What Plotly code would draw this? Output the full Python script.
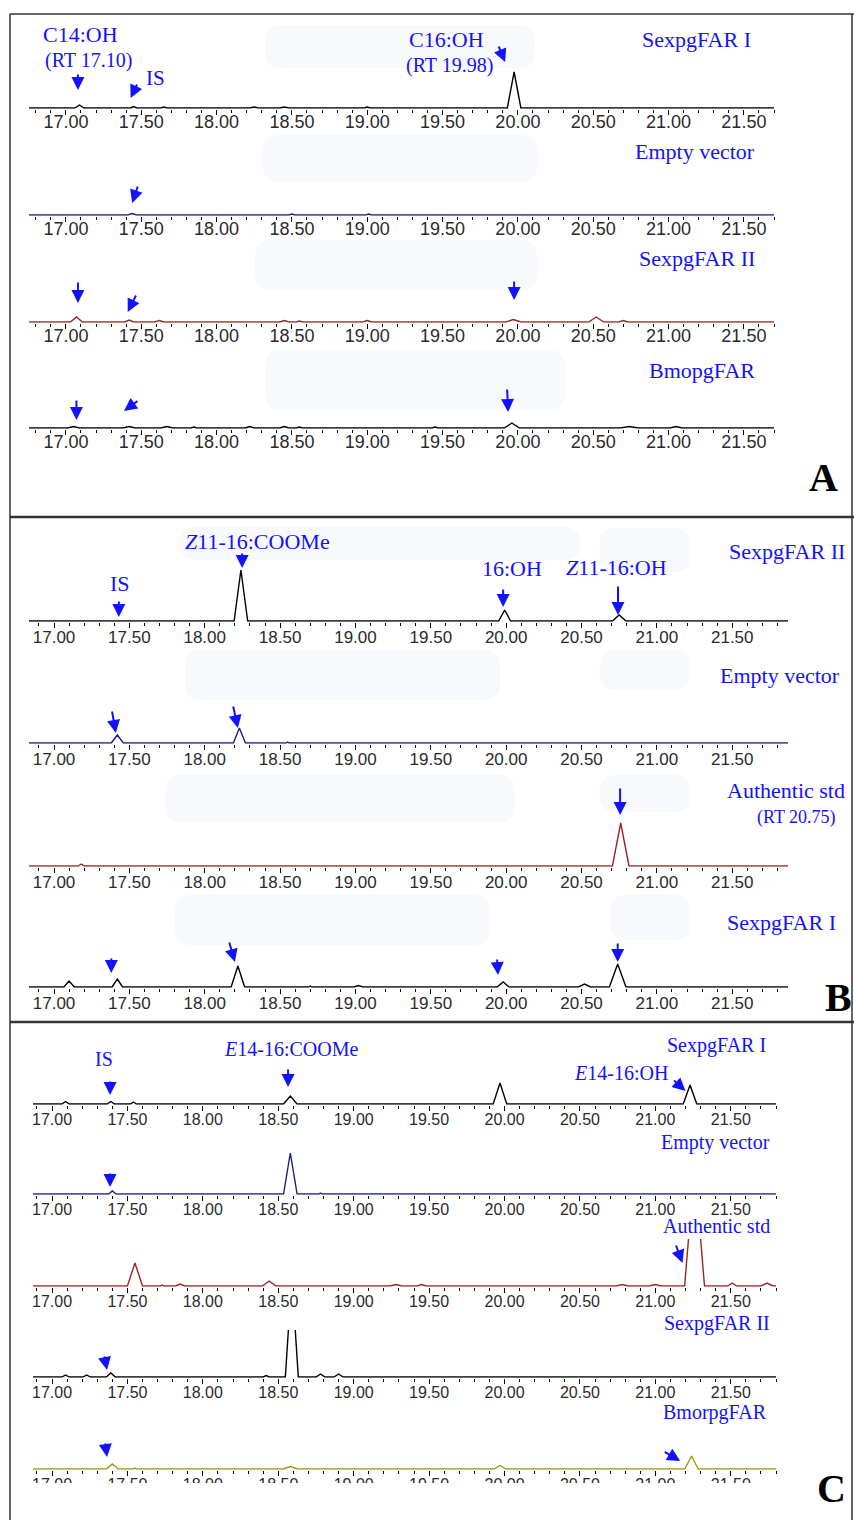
import plotly.graph_objects as go

FIG_W, FIG_H = 854, 1520

# ---------------- data ----------------
TICK_VALUES = [17.0, 17.5, 18.0, 18.5, 19.0, 19.5, 20.0, 20.5, 21.0, 21.5]
TICK_LABELS = ["17.00", "17.50", "18.00", "18.50", "19.00", "19.50", "20.00", "20.50", "21.00", "21.50"]

# Panel A  (retention time, height, half width)
A1_RT = [17.09, 17.45, 17.65, 18.25, 18.45, 19.00, 19.975]
A1_H = [3, 1.5, 1, 1, 1, 1, 36]
A1_W = [0.03, 0.02, 0.02, 0.03, 0.03, 0.02, 0.045]

A2_RT = [17.44, 18.50, 19.01]
A2_H = [1.5, 1, 1]
A2_W = [0.03, 0.02, 0.02]

A3_RT = [17.07, 17.42, 17.62, 18.45, 18.55, 19.00, 19.97, 20.52, 20.70]
A3_H = [5, 2, 1.5, 1.5, 1, 1.5, 2.5, 5, 1.5]
A3_W = [0.04, 0.03, 0.03, 0.03, 0.02, 0.03, 0.05, 0.05, 0.03]

A4_RT = [17.05, 17.42, 17.67, 17.85, 18.22, 18.45, 18.55, 19.45, 19.96, 20.74, 21.05]
A4_H = [1.5, 1.5, 1.5, 1, 1.5, 1.5, 1, 1, 5, 1.5, 1.5]
A4_W = [0.04, 0.04, 0.04, 0.02, 0.03, 0.03, 0.02, 0.02, 0.05, 0.06, 0.04]

# Panel B
B1_RT = [18.24, 19.99, 20.75]
B1_H = [51, 11, 6]
B1_W = [0.045, 0.04, 0.045]

B2_RT = [17.42, 18.23, 18.55]
B2_H = [8, 15, 1]
B2_W = [0.04, 0.04, 0.01]

B3_RT = [17.18, 20.76]
B3_H = [2, 43]
B3_W = [0.02, 0.055]

B4_RT = [17.10, 17.42, 18.22, 18.70, 19.02, 19.98, 20.52, 20.74]
B4_H = [6, 8, 21, 1, 1.5, 5, 3, 23]
B4_W = [0.035, 0.035, 0.045, 0.01, 0.03, 0.04, 0.04, 0.055]

# Panel C
C1_RT = [17.09, 17.39, 17.54, 18.58, 19.97, 21.23]
C1_H = [2.5, 2.5, 2, 8, 21, 19]
C1_W = [0.025, 0.025, 0.02, 0.045, 0.045, 0.045]

C2_RT = [17.40, 18.58, 18.78]
C2_H = [3, 41, 1]
C2_W = [0.025, 0.045, 0.01]

C3_RT = [17.55, 17.73, 17.85, 18.44, 19.28, 19.45, 20.78, 21.00, 21.26, 21.51, 21.74]
C3_H = [23, 1, 2, 5, 1.5, 1.5, 1.5, 1.5, 120, 3, 3]
C3_W = [0.05, 0.01, 0.03, 0.045, 0.04, 0.03, 0.04, 0.04, 0.066, 0.03, 0.04]

C4_RT = [17.09, 17.23, 17.39, 18.42, 18.59, 18.78, 18.90]
C4_H = [2, 2, 4, 1.5, 100, 3, 3]
C4_W = [0.025, 0.025, 0.03, 0.02, 0.043, 0.03, 0.03]

C5_RT = [17.40, 17.55, 18.58, 19.97, 21.24]
C5_H = [5, 1, 2.5, 3.5, 13]
C5_W = [0.04, 0.01, 0.05, 0.04, 0.045]

SAMPLE_NAMES_A = ["SexpgFAR I", "Empty vector", "SexpgFAR II", "BmopgFAR"]
SAMPLE_NAMES_B = ["SexpgFAR II", "Empty vector", "Authentic std", "SexpgFAR I"]
SAMPLE_NAMES_C = ["SexpgFAR I", "Empty vector", "Authentic std", "SexpgFAR II", "BmorpgFAR"]

# ---------------- styles ----------------
BLACK = "#000000"
NAVY = "#1e1e80"
DRED = "#9e2424"
OLIVE = "#9a9a14"
BLUE = "#1212ff"
SERIF = "Liberation Serif, Times New Roman, serif"
SANS = "Liberation Sans, Arial, sans-serif"

# panel geometry (pixels)
PANELS = {
    "A": dict(xr=[16.755, 21.70], xpx=[29, 774], base=[108, 215, 322, 428], H=50, tfs=18, so=-8),
    "B": dict(xr=[16.834, 21.87], xpx=[29, 788], base=[621, 743, 866, 987], H=60, tfs=17, so=-5),
    "C": dict(xr=[16.874, 21.80], xpx=[33, 776], base=[1104, 1194, 1286, 1377, 1469], H=47, tfs=16, so=-5),
}

TRACES = [
    ("A", 0, A1_RT, A1_H, A1_W, BLACK),
    ("A", 1, A2_RT, A2_H, A2_W, NAVY),
    ("A", 2, A3_RT, A3_H, A3_W, DRED),
    ("A", 3, A4_RT, A4_H, A4_W, BLACK),
    ("B", 0, B1_RT, B1_H, B1_W, BLACK),
    ("B", 1, B2_RT, B2_H, B2_W, NAVY),
    ("B", 2, B3_RT, B3_H, B3_W, DRED),
    ("B", 3, B4_RT, B4_H, B4_W, BLACK),
    ("C", 0, C1_RT, C1_H, C1_W, BLACK),
    ("C", 1, C2_RT, C2_H, C2_W, NAVY),
    ("C", 2, C3_RT, C3_H, C3_W, DRED),
    ("C", 3, C4_RT, C4_H, C4_W, BLACK),
    ("C", 4, C5_RT, C5_H, C5_W, OLIVE),
]


def px_x(x):
    return x / FIG_W


def px_y(y):
    return 1 - y / FIG_H


def chromatogram(rt, h, w, x0, x1):
    xs, ys = [x0], [0]
    for r, hh, ww in sorted(zip(rt, h, w)):
        xs += [r - ww, r, r + ww]
        ys += [0, hh, 0]
    xs.append(x1)
    ys.append(0)
    return xs, ys


fig = go.Figure()
layout = dict(
    width=FIG_W, height=FIG_H, margin=dict(l=0, r=0, t=0, b=0),
    paper_bgcolor="white", plot_bgcolor="rgba(0,0,0,0)", showlegend=False,
)
refs = {}
YPAD = 0.8
for i, (pan, k, rt, h, w, col) in enumerate(TRACES, start=1):
    P = PANELS[pan]
    xr, yr = ("x", "y") if i == 1 else (f"x{i}", f"y{i}")
    xa, ya = ("xaxis", "yaxis") if i == 1 else (f"xaxis{i}", f"yaxis{i}")
    refs[(pan, k)] = (xr, yr)
    base = P["base"][k]
    layout[xa] = dict(
        domain=[px_x(P["xpx"][0]), px_x(P["xpx"][1])], range=P["xr"], anchor=yr,
        tickmode="array", tickvals=TICK_VALUES, ticktext=TICK_LABELS,
        ticks="outside", ticklen=5, tickwidth=1, tickcolor="black",
        ticklabelstandoff=P["so"],
        showline=False, showgrid=False, zeroline=False, fixedrange=True,
        tickfont=dict(family=SANS, size=P["tfs"], color="#2a2a2a"),
        minor=dict(tickmode="linear", tick0=17.0, dtick=0.1, ticks="outside",
                   ticklen=3, tickwidth=1, tickcolor="black", showgrid=False),
    )
    layout[ya] = dict(
        domain=[px_y(base + YPAD), px_y(base - P["H"])], range=[-YPAD, P["H"]],
        anchor=xr, visible=False, fixedrange=True,
    )
    xs, ys = chromatogram(rt, h, w, P["xr"][0], P["xr"][1])
    fig.add_trace(go.Scatter(x=xs, y=ys, mode="lines", line=dict(color=col, width=1.4),
                             xaxis=xr, yaxis=yr, hoverinfo="skip"))

ann = []


def label(text, x, y, size, anchor="center", color=BLUE, bold=False, family=SERIF):
    ann.append(dict(text=f"<b>{text}</b>" if bold else text, x=px_x(x), y=px_y(y),
                    xref="paper", yref="paper", xanchor=anchor, yanchor="middle",
                    showarrow=False, font=dict(family=family, size=size, color=color)))


def arrow(pan, k, rt, yv, ax, ay):
    xr, yr = refs[(pan, k)]
    ann.append(dict(text="", x=rt, y=yv, xref=xr, yref=yr, ax=ax, ay=ay,
                    showarrow=True, arrowhead=2, arrowsize=1.3, arrowwidth=2,
                    arrowcolor=BLUE, standoff=0))


# Panel A labels
label("C14:OH", 80, 35, 22)
label("(RT 17.10)", 88, 60, 20)
label("IS", 155, 78, 21)
label("C16:OH", 446, 40, 22)
label("(RT 19.98)", 449, 66, 20)
label(SAMPLE_NAMES_A[0], 753, 40, 22, "right")
label(SAMPLE_NAMES_A[1], 757, 152, 22, "right")
label(SAMPLE_NAMES_A[2], 757, 258, 22, "right")
label(SAMPLE_NAMES_A[3], 757, 370, 22, "right")
label("A", 823, 478, 40, color="black", bold=True)
arrow("A", 0, 17.08, 18, 0, -17)
arrow("A", 0, 17.43, 10, 7, -15)
arrow("A", 0, 19.915, 46, -7, -17)
arrow("A", 1, 17.44, 12, 6, -18)
arrow("A", 2, 17.08, 19, 0, -22)
arrow("A", 2, 17.41, 10, 9, -18)
arrow("A", 2, 19.975, 22, 0, -20)
arrow("A", 3, 17.07, 8, 0, -21)
arrow("A", 3, 17.385, 17, 15, -11)
arrow("A", 3, 19.935, 16, -1, -24)

# Panel B labels
label("<i>Z</i>11-16:COOMe", 257, 541, 22)
label("IS", 120, 583, 22)
label("16:OH", 512, 568, 22)
label("<i>Z</i>11-16:OH", 616, 567, 22)
label(SAMPLE_NAMES_B[0], 847, 551, 22, "right")
label(SAMPLE_NAMES_B[1], 842, 676, 22, "right")
label(SAMPLE_NAMES_B[2], 847, 790, 22, "right")
label("(RT 20.75)", 838, 817, 18, "right")
label(SAMPLE_NAMES_B[3], 838, 922, 22, "right")
label("B", 838, 997, 40, color="black", bold=True)
arrow("B", 0, 18.248, 53, 0, -16)
arrow("B", 0, 17.43, 4, 0, -17)
arrow("B", 0, 19.98, 14, 0, -19)
arrow("B", 0, 20.742, 6, 0, -30)
arrow("B", 1, 17.41, 10, -4, -23)
arrow("B", 1, 18.22, 15, -5, -23)
arrow("B", 2, 20.756, 51, 0, -28)
arrow("B", 3, 17.38, 14, 0, -16)
arrow("B", 3, 18.20, 25, -6, -21)
arrow("B", 3, 19.946, 12, -1, -17)
arrow("B", 3, 20.74, 25, 0, -20)

# Panel C labels
label("IS", 104, 1059, 20)
label("<i>E</i>14-16:COOMe", 291, 1049, 20)
label(SAMPLE_NAMES_C[0], 768, 1045, 20, "right")
label("<i>E</i>14-16:OH", 621, 1073, 20)
label(SAMPLE_NAMES_C[1], 772, 1142, 20, "right")
label(SAMPLE_NAMES_C[2], 772, 1226, 20, "right")
label(SAMPLE_NAMES_C[3], 772, 1323, 20, "right")
label(SAMPLE_NAMES_C[4], 769, 1412, 20, "right")
label("C", 831, 1488, 40, color="black", bold=True)
arrow("C", 0, 17.385, 9, 0, -15)
arrow("C", 0, 18.565, 17, 0, -19)
arrow("C", 0, 21.20, 13, -13, -12)
arrow("C", 1, 17.385, 7, 0, -15)
arrow("C", 2, 21.18, 23, -7, -19)
arrow("C", 3, 17.365, 7, -3, -15)
arrow("C", 4, 17.365, 12, -2, -15)
arrow("C", 4, 21.165, 8, -17, -10)

layout["annotations"] = ann

# faint background blobs, cut-off strip and frame
shapes = []


def rrect(x0, y0, x1, y1, r, fill):
    X, Y = px_x, px_y
    p = (f"M {X(x0 + r)} {Y(y0)} L {X(x1 - r)} {Y(y0)} Q {X(x1)} {Y(y0)} {X(x1)} {Y(y0 + r)} "
         f"L {X(x1)} {Y(y1 - r)} Q {X(x1)} {Y(y1)} {X(x1 - r)} {Y(y1)} "
         f"L {X(x0 + r)} {Y(y1)} Q {X(x0)} {Y(y1)} {X(x0)} {Y(y1 - r)} "
         f"L {X(x0)} {Y(y0 + r)} Q {X(x0)} {Y(y0)} {X(x0 + r)} {Y(y0)} Z")
    shapes.append(dict(type="path", path=p, xref="paper", yref="paper",
                       fillcolor=fill, line=dict(width=0), layer="below"))


BLOB = "#f8f9fd"
for b in [(265, 25, 535, 68), (263, 135, 537, 182), (255, 240, 537, 290), (265, 350, 565, 410),
          (180, 527, 580, 560), (600, 528, 690, 572), (185, 650, 500, 700), (600, 650, 690, 690),
          (165, 775, 515, 822), (600, 775, 690, 812), (175, 895, 490, 945), (610, 895, 690, 940)]:
    rrect(*b, 16, BLOB)

shapes.append(dict(type="rect", xref="paper", yref="paper", x0=px_x(15), x1=px_x(805),
                   y0=px_y(1519), y1=px_y(1483), fillcolor="white", line=dict(width=0), layer="above"))


def hline(y, x0, x1, w, c="#333333"):
    shapes.append(dict(type="line", xref="paper", yref="paper", x0=px_x(x0), x1=px_x(x1),
                       y0=px_y(y), y1=px_y(y), line=dict(color=c, width=w), layer="above"))


def vline(x, y0, y1, w, c="#333333"):
    shapes.append(dict(type="line", xref="paper", yref="paper", x0=px_x(x), x1=px_x(x),
                       y0=px_y(y0), y1=px_y(y1), line=dict(color=c, width=w), layer="above"))


hline(14, 10, 854, 1.5)
hline(517, 10, 854, 2.5)
hline(1022, 10, 854, 2.5)
vline(10, 14, 1520, 1.5)
vline(852, 14, 1520, 1.5)
layout["shapes"] = shapes

fig.update_layout(**layout)
fig.write_html("out.html", config={"displayModeBar": False},
               post_script="document.body.style.margin='0px';document.body.style.overflow='hidden';")
